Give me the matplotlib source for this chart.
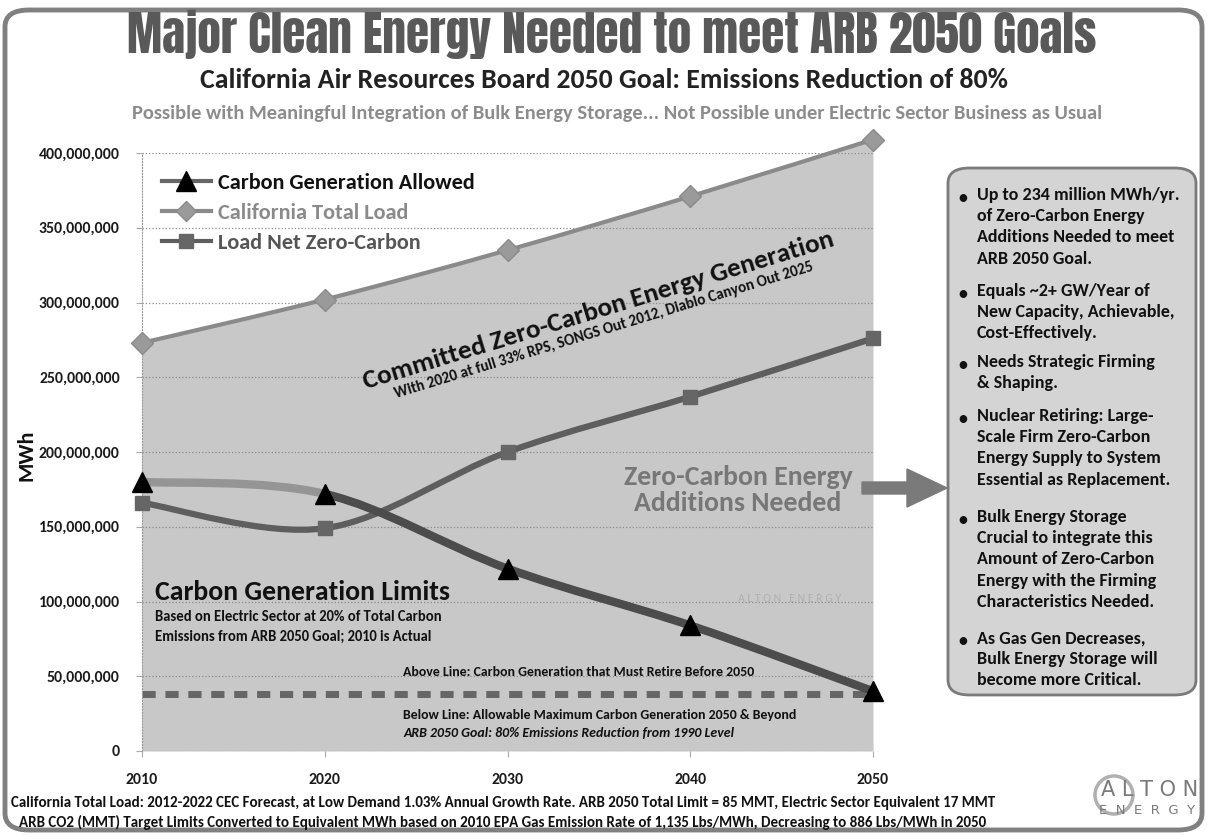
import numpy as np
import matplotlib.pyplot as plt
from matplotlib import font_manager
from matplotlib.path import Path
from matplotlib.patches import PathPatch, FancyBboxPatch, FancyArrow, Circle
from matplotlib.lines import Line2D


# =========================
# 数据
# =========================
years = [2010, 2020, 2030, 2040, 2050]
total_load = [273e6, 302e6, 335e6, 371e6, 409e6]
net_zero_carbon = [166e6, 149e6, 200e6, 237e6, 276e6]
carbon_allowed = [180e6, 172e6, 122e6, 84e6, 40e6]
carbon_limit_2050 = 38e6
yticks = np.arange(0, 400e6 + 1, 50e6)
ytick_labels = ["{:,}".format(int(v)) for v in yticks]

bullets = [
    "Up to 234 million MWh/yr.\nof Zero-Carbon Energy\nAdditions Needed to meet\nARB 2050 Goal.",
    "Equals ~2+ GW/Year of\nNew Capacity, Achievable,\nCost-Effectively.",
    "Needs Strategic Firming\n& Shaping.",
    "Nuclear Retiring: Large-\nScale Firm Zero-Carbon\nEnergy Supply to System\nEssential as Replacement.",
    "Bulk Energy Storage\nCrucial to integrate this\nAmount of Zero-Carbon\nEnergy with the Firming\nCharacteristics Needed.",
    "As Gas Gen Decreases,\nBulk Energy Storage will\nbecome more Critical.",
]
bullet_y = [198, 294, 365, 419, 520, 641]


# =========================
# 辅助函数
# =========================
W, H = 1207, 835


def fx(x):
    return x / W


def fy(y):
    return 1 - y / H


def pick(*names):
    # 找第一个装了的字体
    for n in names:
        try:
            font_manager.findfont(font_manager.FontProperties(family=n),
                                  fallback_to_default=False)
            return n
        except ValueError:
            continue
    return 'DejaVu Sans'


def smooth_segments(xs, ys):
    # Excel 的平滑折线: 每段一条三次贝塞尔曲线
    pts = np.column_stack([xs, ys]).astype(float)
    n = len(pts)
    segs = []
    for i in range(n - 1):
        p0 = pts[max(i - 1, 0)]
        p1 = pts[i]
        p2 = pts[i + 1]
        p3 = pts[min(i + 2, n - 1)]
        c1 = p1 + (p2 - p0) / 6
        c2 = p2 - (p3 - p1) / 6
        segs.append(Path([p1, c1, c2, p2],
                         [Path.MOVETO, Path.CURVE4, Path.CURVE4, Path.CURVE4]))
    return segs


BODY = pick('Carlito', 'Lato')
TITLE = pick('Anton', 'Oswald', 'Roboto')
plt.rcParams['font.family'] = [BODY, 'DejaVu Sans']

fig = plt.figure(figsize=(12.07, 8.35), dpi=100)
fig.patch.set_facecolor('white')

# 外框
fig.add_artist(FancyBboxPatch((fx(5), fy(830)), fx(1197), 820 / H,
                              boxstyle="round,pad=0,rounding_size=0.02",
                              transform=fig.transFigure, facecolor='none',
                              edgecolor='#808080', linewidth=3.5))

ax = fig.add_axes([fx(142), fy(751), fx(873) - fx(142), fy(153) - fy(751)])
ax.set_xlim(2010, 2050)
ax.set_ylim(0, 400e6)

# 面积
ax.fill_between(years, total_load, 0, color='#c8c8c8', zorder=0.4,
                linewidth=0, clip_on=False)

# 网格和坐标轴
ax.set_yticks(yticks)
ax.set_yticklabels(ytick_labels)
ax.set_xticks(years)
ax.set_xticklabels([str(y) for y in years])
ax.grid(axis='y', linestyle=':', color='#8a8a8a', linewidth=0.9)
ax.set_axisbelow(True)
for s in ['top', 'right', 'bottom']:
    ax.spines[s].set_visible(False)
ax.spines['left'].set_linestyle(':')
ax.spines['left'].set_color('#999999')
ax.tick_params(axis='both', length=4, color='#aaaaaa', labelsize=11.3,
               labelcolor='#1a1a1a')
ax.tick_params(axis='y', pad=12)
ax.tick_params(axis='x', pad=12)
for lab in ax.get_xticklabels() + ax.get_yticklabels():
    lab.set_fontweight('bold')
fig.text(fx(27), fy(455), "MWh", fontsize=16, fontweight='bold', rotation=90,
         color='#111111', ha='center', va='center')

# 2050 碳上限虚线
ax.plot([years[0], years[-1]], [carbon_limit_2050, carbon_limit_2050],
        color='#666666', linewidth=5, dashes=(1.9, 1.4), zorder=2)

# 总负荷
for seg in smooth_segments(years, total_load):
    ax.add_patch(PathPatch(seg, facecolor='none', edgecolor='#8a8a8a',
                           linewidth=3, zorder=3, clip_on=False))
ax.plot(years, total_load, linestyle='none', marker='D', markersize=11,
        color='#9a9a9a', markeredgecolor='#8a8a8a', zorder=4, clip_on=False)

# 净零碳负荷
for seg in smooth_segments(years, net_zero_carbon):
    ax.add_patch(PathPatch(seg, facecolor='none', edgecolor='#5e5e5e',
                           linewidth=4.5, zorder=3))
ax.plot(years, net_zero_carbon, linestyle='none', marker='s', markersize=10,
        color='#666666', zorder=4, clip_on=False)

# 允许的碳排放发电量
for i, seg in enumerate(smooth_segments(years, carbon_allowed)):
    c = '#959595' if i == 0 else '#4c4c4c'
    ax.add_patch(PathPatch(seg, facecolor='none', edgecolor=c,
                           linewidth=6, zorder=5))
ax.plot(years, carbon_allowed, linestyle='none', marker='^', markersize=15,
        color='black', zorder=6, clip_on=False)

# 图例
handles = [
    Line2D([], [], color='#666666', linewidth=3, marker='^', markersize=14,
           markerfacecolor='black', markeredgecolor='black'),
    Line2D([], [], color='#8a8a8a', linewidth=3, marker='D', markersize=10,
           markerfacecolor='#9a9a9a', markeredgecolor='#8a8a8a'),
    Line2D([], [], color='#5e5e5e', linewidth=3, marker='s', markersize=10,
           markerfacecolor='#666666', markeredgecolor='#666666'),
]
leg = ax.legend(handles, ["Carbon Generation Allowed", "California Total Load",
                          "Load Net Zero-Carbon"],
                loc='upper left', bbox_to_anchor=(0.0, 1.0), frameon=False,
                fontsize=16, handlelength=2.2, labelspacing=0.45,
                handletextpad=0.3)
for t, c in zip(leg.get_texts(), ['#111111', '#8a8a8a', '#555555']):
    t.set_color(c)
    t.set_fontweight('bold')

# =========================
# 文字注释
# =========================
fig.text(fx(612), fy(34), "Major Clean Energy Needed to meet ARB 2050 Goals",
         family=[TITLE, 'DejaVu Sans'], fontsize=34,
         color='#595959', ha='center', va='center')
fig.text(fx(604), fy(80),
         "California Air Resources Board 2050 Goal: Emissions Reduction of 80%",
         fontsize=20, fontweight='bold', color='#222222', ha='center', va='center')
fig.text(fx(617), fy(113),
         "Possible with Meaningful Integration of Bulk Energy Storage... "
         "Not Possible under Electric Sector Business as Usual",
         fontsize=14.8, fontweight='bold', color='#8c8c8c', ha='center', va='center')

fig.text(fx(598), fy(310), "Committed Zero-Carbon Energy Generation",
         fontsize=19.5, fontweight='bold', color='#111111', rotation=17,
         rotation_mode='anchor', ha='center', va='center')
fig.text(fx(604), fy(330),
         "With 2020 at full 33% RPS, SONGS Out 2012, Diablo Canyon Out 2025",
         fontsize=11, fontweight='bold', color='#111111', rotation=17,
         rotation_mode='anchor', ha='center', va='center')

fig.text(fx(738), fy(490), "Zero-Carbon Energy\nAdditions Needed",
         fontsize=20, fontweight='bold', color='#777777', ha='center',
         va='center', linespacing=1.1)

fig.text(fx(790), fy(598), "A L T O N   E N E R G Y", fontsize=8.5,
         color='#b0b0b0', ha='center', va='center')

fig.text(fx(155), fy(592), "Carbon Generation Limits", fontsize=20,
         fontweight='bold', color='#111111', ha='left', va='center')
fig.text(fx(155), fy(627),
         "Based on Electric Sector at 20% of Total Carbon\n"
         "Emissions from ARB 2050 Goal; 2010 is Actual",
         fontsize=10.5, fontweight='bold', color='#111111', ha='left',
         va='center', linespacing=1.5)

fig.text(fx(403), fy(672), "Above Line: Carbon Generation that Must Retire Before 2050",
         fontsize=10, fontweight='bold', color='#111111', ha='left', va='center')
fig.text(fx(403), fy(715), "Below Line: Allowable Maximum Carbon Generation 2050 & Beyond",
         fontsize=10, fontweight='bold', color='#111111', ha='left', va='center')
fig.text(fx(403), fy(733), "ARB 2050 Goal: 80% Emissions Reduction from 1990 Level",
         fontsize=10, fontweight='bold', fontstyle='italic', color='#111111',
         ha='left', va='center')

# 箭头
fig.add_artist(FancyArrow(8.62, (H - 488) / 100, 0.85, 0, width=0.12,
                          head_width=0.38, head_length=0.40,
                          length_includes_head=True, color='#7a7a7a',
                          transform=fig.dpi_scale_trans))

# 右侧文本框
fig.add_artist(FancyBboxPatch((fx(948), fy(695)), fx(1196) - fx(948), (695 - 168) / H,
                              boxstyle="round,pad=0,rounding_size=0.018",
                              transform=fig.transFigure, facecolor='#d4d4d4',
                              edgecolor='#7a7a7a', linewidth=2))
for text, y in zip(bullets, bullet_y):
    fig.text(fx(958), fy(y), "\u2022", fontsize=13, fontweight='bold',
             color='#111111', ha='left', va='center')
    fig.text(fx(977), fy(y - 11), text, fontsize=13, fontweight='bold',
             color='#111111', ha='left', va='top', linespacing=1.4)

# 底部说明
fig.text(fx(503), fy(803),
         "California Total Load: 2012-2022 CEC Forecast, at Low Demand 1.03% Annual Growth Rate. "
         "ARB 2050 Total Limit = 85 MMT, Electric Sector Equivalent 17 MMT",
         fontsize=10.8, fontweight='bold', color='#111111', ha='center', va='center')
fig.text(fx(503), fy(822),
         "ARB CO2 (MMT) Target Limits Converted to Equivalent MWh based on 2010 EPA Gas "
         "Emission Rate of 1,135 Lbs/MWh, Decreasing to 886 Lbs/MWh in 2050",
         fontsize=10.8, fontweight='bold', color='#111111', ha='center', va='center')

# 标志
fig.add_artist(Circle((11.14, (H - 795) / 100), 0.19, transform=fig.dpi_scale_trans,
                      facecolor='none', edgecolor='#b0b0b0', linewidth=2.5))
fig.text(fx(1150), fy(790), "A L T O N", fontsize=15, family='DejaVu Sans',
         color='#7a7a7a', ha='center', va='center')
fig.text(fx(1147), fy(810), "E  N  E  R  G  Y", fontsize=9.5, family='DejaVu Sans',
         color='#7a7a7a', ha='center', va='center')

fig.savefig("out.png", dpi=100)
